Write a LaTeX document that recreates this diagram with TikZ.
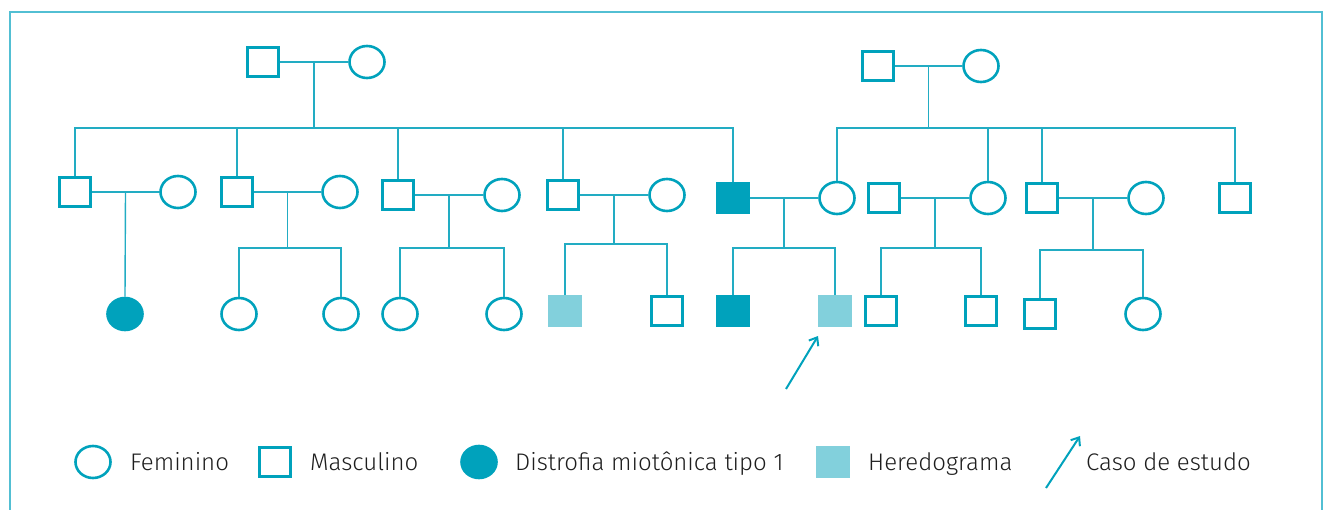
\documentclass[tikz,border=0pt]{standalone}
\usepackage{fontspec}
\setmainfont{Fira Sans}[UprightFont=* Light]
\usetikzlibrary{shapes.geometric, calc, arrows.meta, positioning}
\definecolor{ped}{HTML}{00A2BC}
\definecolor{pedlight}{HTML}{82D0DC}
\definecolor{pedline}{HTML}{22ACC3}
\definecolor{pedframe}{HTML}{52BFD3}
\definecolor{txt}{HTML}{1E1E1E}
\tikzset{
  fem/.style={ellipse, draw=ped, line width=2.6pt, minimum width=35pt, minimum height=32pt, inner sep=0pt},
  mal/.style={rectangle, draw=ped, line width=2.6pt, minimum width=31pt, minimum height=29pt, inner sep=0pt},
  aff/.style={fill=ped},
  her/.style={rectangle, fill=pedlight, minimum width=33.6pt, minimum height=31.6pt, inner sep=0pt},
  rel/.style={draw=pedline, line width=1.4pt},
  lbl/.style={text=txt, font=\fontsize{24}{28}\selectfont, anchor=base west, inner sep=0pt},
  casearrow/.style={draw=ped, line width=2pt, -{Straight Barb[length=7pt, width=11pt]}},
}
\begin{document}
\begin{tikzpicture}[x=1pt, y=-1pt]
\useasboundingbox (0,0) rectangle (1330,510);
\draw[draw=pedframe, line width=1.5pt] (10,510) -- (10,12) -- (1322,12) -- (1322,510);

% generation I
\node[mal] (p1) at (263,62) {};
\node[fem] (p2) at (367,62) {};
\node[mal] (p3) at (878,66) {};
\node[fem] (p4) at (981,66) {};

% generation II
\node[mal] (s1) at (75,192) {};
\node[fem] (w1) at (178,192) {};
\node[mal] (s2) at (237,192) {};
\node[fem] (w2) at (340,192) {};
\node[mal] (s3) at (398,195) {};
\node[fem] (w3) at (502,195) {};
\node[mal] (s4) at (563,195) {};
\node[fem] (w4) at (667,195) {};
\node[mal, aff] (s5) at (733,198) {};
\node[fem] (d1) at (837,198) {};
\node[mal] (h6) at (884,198) {};
\node[fem] (d2) at (988,198) {};
\node[mal] (s7) at (1042,198) {};
\node[fem] (w7) at (1146,198) {};
\node[mal] (s8) at (1235,198) {};

% generation III
\node[fem, aff] (c1) at (125,314) {};
\node[fem] (c2) at (239,314) {};
\node[fem] (c3) at (341,314) {};
\node[fem] (c4) at (400,314) {};
\node[fem] (c5) at (504,314) {};
\node[her] (c6) at (565,311) {};
\node[mal] (c7) at (667,311) {};
\node[mal, aff] (c8) at (733,311) {};
\node[her] (c9) at (835,311) {};
\node[mal] (c10) at (881,311) {};
\node[mal] (c11) at (981,311) {};
\node[mal] (c12) at (1040,314) {};
\node[fem] (c13) at (1143,314) {};

% couples
\foreach \a/\b in {p1/p2, p3/p4, s1/w1, s2/w2, s3/w3, s4/w4, s5/d1, h6/d2, s7/w7}
  \draw[rel] (\a) -- (\b);

% sibships
\coordinate (m1) at ($(p1.east)!.5!(p2.west)$);
\coordinate (sib1) at (m1 |- 0,128);
\draw[rel] (m1) -- (sib1);
\foreach \c in {s1,s2,s3,s4,s5}
  \draw[rel] (sib1) -| (\c.north);
\coordinate (m2) at ($(p3.east)!.5!(p4.west)$);
\coordinate (sib2) at (m2 |- 0,128);
\draw[rel] (m2) -- (sib2);
\foreach \c in {d1,d2,s7,s8}
  \draw[rel] (sib2) -| (\c.north);

\draw[rel] ($(s1.east)!.5!(w1.west)$) -- (c1.north);
\foreach \a/\b/\k/\l/\y in {s2/w2/c2/c3/248, s3/w3/c4/c5/248, s4/w4/c6/c7/244, s5/d1/c8/c9/248, h6/d2/c10/c11/248, s7/w7/c12/c13/250}{
  \coordinate (m) at ($(\a.east)!.5!(\b.west)$);
  \coordinate (j) at (m |- 0,\y);
  \draw[rel] (m) -- (j);
  \draw[rel] (j) -| (\k.north);
  \draw[rel] (j) -| (\l.north);
}

% case
\coordinate (a0) at (786,389);
\coordinate (a1) at (818,336);
\draw[casearrow] (a0) -- (a1);

% legend
\node[fem] (lf) at (93,462) {};
\node[lbl] (tf) at (130,470) {Feminino};
\node[mal] (lm) at (275,462) {};
\node[lbl] (tm) at (310,470) {Masculino};
\node[fem, aff] (la) at (479,462) {};
\node[lbl] (ta) at (515,470) {Distrofia miotônica tipo 1};
\node[her] (lh) at (833,462) {};
\node[lbl] (th) at (868,470) {Heredograma};
\coordinate (l0) at (1046,488);
\coordinate (l1) at (1080,436);
\draw[casearrow] (l0) -- (l1);
\node[lbl] (tc) at (1086,470) {Caso de estudo};
\end{tikzpicture}
\end{document}
